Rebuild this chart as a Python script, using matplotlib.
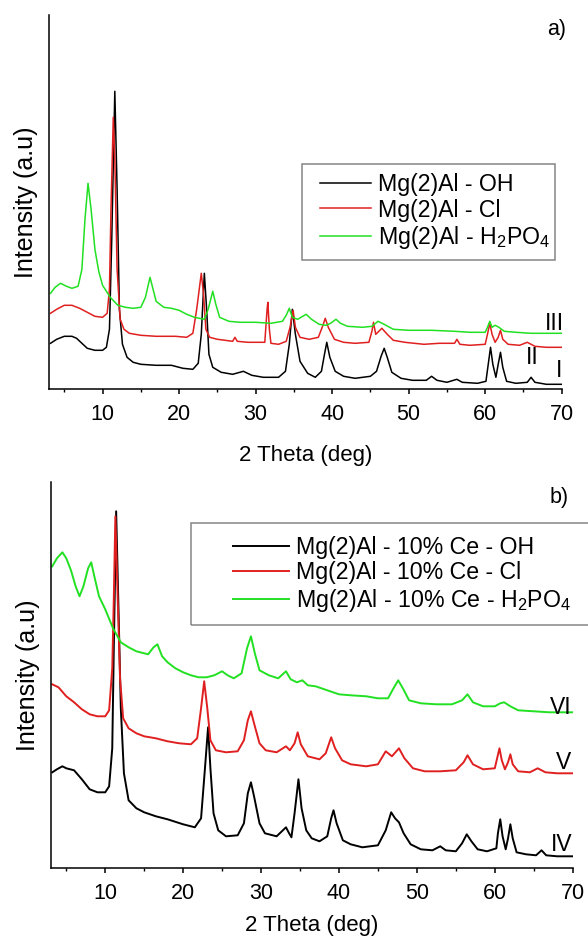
import matplotlib
matplotlib.use("Agg")
import matplotlib.pyplot as plt
from matplotlib.ticker import MultipleLocator
from matplotlib.patches import Rectangle

plt.rcParams['font.family'] = ['Liberation Sans', 'DejaVu Sans']
plt.rcParams['mathtext.fontset'] = 'custom'
plt.rcParams['mathtext.rm'] = 'Liberation Sans'

# ---- panel a) data: 2theta (deg) and intensity (a.u.) ----
a_oh_x = [3.2, 4.0, 5.0, 6.0, 6.6, 7.3, 8.0, 9.0, 10.0, 10.5, 10.9, 11.2, 11.6, 11.9, 12.2, 12.6, 13.2, 14.0,
          15.0, 17.0, 19.0, 20.5, 21.8, 22.5, 22.9, 23.3, 23.6, 23.9, 24.4, 25.5, 27.0, 28.4, 29.5, 31.0, 33.0,
          33.9, 34.4, 34.8, 35.2, 35.8, 36.8, 37.8, 38.6, 39.0, 39.3, 39.7, 40.4, 41.5, 43.0, 45.0, 45.8, 46.4,
          46.8, 47.2, 47.8, 49.0, 50.5, 52.3, 53.0, 53.7, 55.0, 56.3, 57.0, 59.0, 60.1, 60.4, 60.7, 61.0, 61.4,
          61.7, 62.0, 62.3, 62.8, 64.0, 65.5, 66.0, 66.5, 68.0, 70.0]
a_oh_y = [46, 50, 53, 53, 51, 46, 41, 39, 39, 42, 60, 150, 298, 200, 80, 45, 32, 27,
          25, 24, 24, 21, 20, 26, 55, 116, 80, 35, 22, 17, 15, 18, 14, 12, 12,
          18, 45, 80, 55, 28, 16, 12, 18, 35, 47, 32, 18, 13, 11, 13, 18, 33,
          41, 32, 17, 11, 9, 9, 13, 9, 7, 10, 7, 6, 8, 25, 42, 25, 12,
          25, 37, 22, 8, 6, 7, 12, 7, 5, 5]

a_cl_x = [3.2, 4.0, 5.0, 6.0, 7.0, 8.0, 9.0, 10.0, 10.6, 10.9, 11.1, 11.4, 11.6, 11.9, 12.3, 12.8, 13.5, 15.0,
          17.0, 19.5, 21.0, 21.8, 22.3, 22.9, 23.2, 23.5, 24.0, 25.0, 27.0, 27.3, 27.6, 29.0, 31.2, 31.5, 31.6,
          31.8, 32.0, 33.0, 34.0, 34.5, 34.9, 35.2, 35.8, 37.0, 38.2, 38.8, 39.1, 39.5, 40.3, 41.5, 43.0, 44.8,
          45.2, 45.4, 45.7, 46.5, 47.2, 48.0, 49.5, 52.0, 54.0, 56.0, 56.3, 56.7, 58.0, 60.0, 60.3, 60.6, 60.9,
          61.3, 61.7, 62.0, 62.3, 63.0, 64.5, 65.5, 66.5, 68.0, 70.0]
a_cl_y = [76, 80, 84, 84, 81, 77, 73, 72, 76, 100, 180, 272, 230, 120, 70, 60, 56, 54,
          53, 53, 52, 56, 80, 116, 95, 60, 52, 50, 48, 52, 48, 47, 47, 80, 87,
          60, 46, 45, 48, 62, 79, 62, 52, 50, 52, 64, 71, 62, 50, 47, 46, 47,
          58, 67, 55, 61, 55, 49, 47, 45, 46, 46, 50, 45, 44, 45, 55, 66, 55,
          47, 52, 59, 50, 45, 44, 47, 43, 42, 42]

a_po_x = [3.2, 3.8, 4.5, 5.3, 6.0, 6.8, 7.3, 7.7, 8.1, 8.5, 9.0, 9.5, 10.0, 11.0, 12.0, 13.0, 14.0, 15.0,
          15.6, 16.2, 16.6, 17.0, 18.0, 19.0, 20.0, 21.0, 22.0, 23.3, 23.8, 24.4, 24.8, 25.3, 26.5, 28.0, 30.0,
          32.0, 33.5, 34.0, 34.4, 34.8, 35.5, 36.6, 37.3, 38.3, 39.2, 39.8, 40.5, 41.1, 42.0, 44.0, 45.2, 46.0,
          46.8, 48.0, 50.0, 53.0, 56.0, 58.0, 60.0, 60.3, 60.6, 60.9, 61.3, 61.8, 62.5, 64.0, 66.0, 68.0, 70.0]
a_po_y = [96, 102, 106, 103, 101, 103, 120, 170, 206, 180, 140, 118, 104, 92, 84, 82, 81, 82,
          92, 112, 100, 88, 82, 81, 79, 75, 72, 70, 80, 98, 85, 72, 68, 67, 67,
          66, 68, 74, 81, 72, 70, 75, 70, 65, 64, 66, 70, 66, 63, 62, 63, 68,
          65, 60, 59, 59, 58, 57, 57, 62, 68, 62, 64, 62, 58, 57, 56, 56, 56]

# ---- panel b) data ----
b_oh_x = [3.2, 3.8, 4.5, 5.0, 6.0, 7.0, 8.0, 9.0, 10.0, 10.5, 10.9, 11.1, 11.4, 11.7, 12.0, 12.4, 13.0, 14.0,
          15.0, 16.5, 18.0, 20.0, 21.5, 22.3, 22.8, 23.2, 23.5, 23.9, 24.5, 25.5, 27.0, 27.8, 28.3, 28.7, 29.1,
          29.8, 30.5, 32.0, 32.8, 33.2, 33.6, 33.9, 34.3, 34.8, 35.2, 35.8, 36.5, 37.5, 38.5, 39.0, 39.3, 39.7,
          40.5, 41.5, 43.0, 45.0, 46.0, 46.7, 47.2, 47.7, 48.3, 49.2, 50.5, 52.0, 53.0, 53.7, 55.0, 55.8, 56.4,
          57.0, 57.8, 59.0, 60.2, 60.4, 60.7, 61.0, 61.4, 61.7, 62.0, 62.3, 62.8, 64.0, 65.3, 66.0, 66.6, 68.0, 70.0]
b_oh_y = [96, 99, 102, 100, 98, 89, 79, 76, 76, 82, 120, 220, 357, 260, 160, 95, 68, 60,
          56, 52, 49, 44, 41, 50, 100, 141, 100, 55, 38, 32, 33, 45, 75, 86, 72,
          45, 35, 32, 38, 41, 35, 31, 55, 89, 60, 38, 30, 27, 32, 50, 58, 45,
          28, 24, 21, 23, 38, 56, 50, 46, 35, 24, 19, 18, 22, 18, 17, 25, 34,
          27, 19, 17, 20, 35, 49, 32, 19, 30, 44, 30, 16, 14, 13, 18, 13, 12, 12]

b_cl_x = [3.2, 4.0, 5.0, 6.0, 7.0, 8.0, 9.0, 10.0, 10.5, 10.9, 11.1, 11.3, 11.6, 11.9, 12.3, 13.0, 14.0, 15.0,
          16.5, 18.0, 19.5, 21.0, 21.8, 22.3, 22.7, 23.1, 23.5, 24.2, 25.5, 27.0, 27.8, 28.3, 28.7, 29.1, 29.8,
          30.6, 32.0, 32.8, 33.2, 33.7, 34.3, 34.7, 35.1, 36.0, 37.5, 38.3, 39.0, 39.5, 40.4, 41.5, 43.5, 45.0,
          46.0, 46.8, 47.7, 48.4, 49.5, 51.0, 53.0, 55.0, 56.0, 56.5, 57.2, 58.5, 60.0, 60.3, 60.6, 60.9, 61.3,
          61.7, 62.0, 62.3, 63.0, 64.5, 65.5, 66.5, 68.0, 70.0]
b_cl_y = [184, 181, 172, 166, 159, 154, 152, 152, 158, 200, 270, 352, 270, 190, 150, 140, 135, 132,
          130, 127, 125, 124, 130, 160, 187, 160, 128, 118, 116, 117, 128, 148, 157, 145, 125,
          118, 116, 120, 122, 118, 125, 136, 124, 112, 109, 115, 131, 120, 108, 104, 102, 104,
          117, 112, 120, 110, 100, 97, 97, 98, 106, 113, 104, 99, 100, 110, 120, 108, 99,
          106, 114, 104, 97, 96, 100, 96, 95, 95]

b_po_x = [3.2, 3.8, 4.5, 5.0, 5.6, 6.2, 6.7, 7.2, 7.8, 8.2, 8.6, 9.2, 10.0, 11.0, 12.0, 13.0, 14.0, 15.5,
          16.2, 16.7, 17.3, 18.0, 19.0, 20.0, 21.0, 22.0, 23.0, 24.0, 25.0, 25.7, 26.5, 27.5, 28.2, 28.7, 29.2,
          29.8, 31.0, 32.2, 33.2, 33.8, 34.6, 35.3, 36.0, 37.0, 38.5, 40.0, 41.5, 43.5, 45.0, 46.3, 47.0, 47.6,
          48.2, 49.0, 50.5, 52.5, 54.5, 55.8, 56.5, 57.2, 58.5, 60.0, 60.7, 61.2, 62.0, 63.0, 65.0, 67.0, 70.0]
b_po_y = [302, 310, 316, 310, 298, 282, 272, 282, 300, 306, 292, 272, 259, 240, 226, 221, 217, 214,
          221, 224, 212, 206, 200, 196, 193, 191, 191, 193, 197, 193, 190, 195, 220, 232, 215,
          198, 193, 190, 197, 189, 186, 188, 183, 182, 178, 174, 173, 172, 170, 170, 180, 188,
          180, 168, 165, 164, 164, 168, 174, 166, 162, 162, 165, 166, 162, 158, 157, 156, 156]

labels_a = ['Mg(2)Al - OH', 'Mg(2)Al - Cl', r'Mg(2)Al - H$_\mathregular{2}$PO$_\mathregular{4}$']
labels_b = ['Mg(2)Al - 10% Ce - OH', 'Mg(2)Al - 10% Ce - Cl',
            r'Mg(2)Al - 10% Ce - H$_\mathregular{2}$PO$_\mathregular{4}$']
roman_a = [('I', 69.7, 19), ('II', 66.2, 32), ('III', 69.0, 66)]
roman_b = [('IV', 68.6, 24), ('V', 68.8, 106), ('VI', 68.5, 161)]

col_k = '#000000'
col_r = '#e02020'
col_g = '#22e022'
W, H = 588.0, 941.0

fig = plt.figure(figsize=(5.88, 9.41), dpi=100)
ax1 = fig.add_axes([49 / W, 1 - 389.3 / H, (561.7 - 49) / W, (389.3 - 15) / H])
ax2 = fig.add_axes([50.7 / W, 1 - 868.3 / H, (572.7 - 50.7) / W, (868.3 - 482) / H])


def style_axis(ax, ymax, xpad):
    ax.set_xlim(3, 70)
    ax.set_ylim(0, ymax)
    ax.spines['top'].set_visible(False)
    ax.spines['right'].set_visible(False)
    ax.spines['left'].set_linewidth(1.1)
    ax.spines['bottom'].set_linewidth(1.1)
    ax.set_yticks([])
    ax.xaxis.set_major_locator(MultipleLocator(10))
    ax.xaxis.set_minor_locator(MultipleLocator(5))
    ax.tick_params(axis='x', which='major', direction='out', length=3.3, width=1.1, labelsize=15.5, pad=7.5)
    ax.tick_params(axis='x', which='minor', direction='out', length=2.5, width=1.0)
    ax.set_xlabel('2 Theta (deg)', fontsize=16, labelpad=xpad)
    ax.set_ylabel('Intensity (a.u)', fontsize=18, labelpad=8)


def add_legend(ax, labels, x_handle, y_mid, box, hlen):
    leg = ax.legend(labels, loc='center left', bbox_to_anchor=(x_handle / W, 1 - y_mid / H),
                    bbox_transform=fig.transFigure, fontsize=16.7, frameon=False,
                    handlelength=hlen, handletextpad=0.3, labelspacing=0.12,
                    borderpad=0, borderaxespad=0)
    x0, y0, x1, y1 = box
    fig.add_artist(Rectangle((x0 / W, 1 - y1 / H), (x1 - x0) / W, (y1 - y0) / H,
                             transform=fig.transFigure, fill=False, edgecolor='#858585', lw=1.1))
    return leg


# panel a
ax1.plot(a_oh_x, a_oh_y, color=col_k, lw=1.1)
ax1.plot(a_cl_x, a_cl_y, color=col_r, lw=1.1)
ax1.plot(a_po_x, a_po_y, color=col_g, lw=1.1)
style_axis(ax1, 374.3, 14)
for txt, xx, yy in roman_a:
    ax1.text(xx, yy, txt, fontsize=16.5, ha='center', va='center')
fig.text(557 / W, 1 - 30 / H, 'a)', fontsize=15.5, ha='center', va='center')
add_legend(ax1, labels_a, 320, 212, (302, 164, 555, 260), 2.2)

# panel b
ax2.plot(b_oh_x, b_oh_y, color=col_k, lw=1.4)
ax2.plot(b_cl_x, b_cl_y, color=col_r, lw=1.4)
ax2.plot(b_po_x, b_po_y, color=col_g, lw=1.4)
style_axis(ax2, 386.3, 8)
for txt, xx, yy in roman_b:
    ax2.text(xx, yy, txt, fontsize=16.5, ha='center', va='center')
fig.text(559 / W, 1 - 497 / H, 'b)', fontsize=15.5, ha='center', va='center')
add_legend(ax2, labels_b, 233, 575, (191, 523, 600, 625), 2.4)

plt.savefig('out.png', dpi=100)
plt.close(fig)
